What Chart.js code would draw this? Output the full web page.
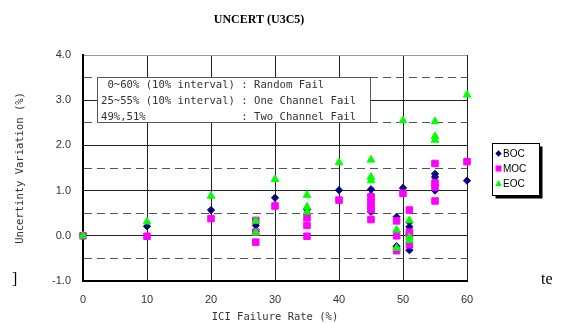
<!DOCTYPE html>
<html>
<head>
<meta charset="utf-8">
<script src="https://cdn.jsdelivr.net/npm/chart.js@4.4.1/dist/chart.umd.min.js"></script>
<style>
  html, body { margin: 0; padding: 0; background: #fff; }
  #wrap { position: relative; width: 563px; height: 323px; overflow: hidden; }
</style>
</head>
<body>
<div id="wrap"><canvas id="chart" width="563" height="323"></canvas></div>
<script>
// ICI failure rate (%) and uncertainty variation (%) per core state
const bocRate = [0, 10, 20, 27, 27, 30, 35, 35, 40, 45, 45, 45, 49, 49, 50, 51, 51, 51, 55, 55, 55, 60];
const bocVar  = [0, 0.21, 0.57, 0.23, 0.10, 0.84, 0.58, 0.48, 1.01, 1.03, 0.90, 0.53, 0.42, -0.23, 1.06, 0.30, 0.20, -0.32, 1.37, 1.30, 1.00, 1.22];

const mocRate = [0, 10, 20, 27, 27, 27, 30, 35, 35, 35, 40, 45, 45, 45, 45, 45, 49, 49, 49, 50, 51, 51, 51, 51, 55, 55, 55, 55, 60];
const mocVar  = [0, -0.01, 0.38, 0.34, 0.08, -0.14, 0.66, 0.40, 0.23, -0.01, 0.79, 0.86, 0.76, 0.66, 0.58, 0.36, 0.33, 0.00, -0.33, 0.94, 0.57, 0.08, 0.02, -0.20, 1.60, 1.17, 1.08, 0.77, 1.64];

const eocRate = [0, 10, 20, 27, 27, 30, 35, 35, 35, 40, 45, 45, 45, 49, 49, 50, 51, 51, 51, 55, 55, 55, 60];
const eocVar  = [0, 0.31, 0.88, 0.33, 0.07, 1.25, 0.90, 0.64, 0.53, 1.62, 1.68, 1.30, 1.22, 0.13, -0.27, 2.55, 0.34, -0.03, -0.10, 2.53, 2.20, 2.12, 3.12];

const seriesNames = ['BOC', 'MOC', 'EOC'];
const seriesColors = ['#000080', '#ff00ff', '#00ff00'];
const chartTitle = 'UNCERT (U3C5)';
const xTitle = 'ICI Failure Rate (%)';
const yTitle = 'Uncertinty Variation (%)';
const noteLines = [
  ' 0~60% (10% interval) : Random Fail',
  '25~55% (10% interval) : One Channel Fail',
  '49%,51%               : Two Channel Fail'
];

const toPoints = (xs, ys) => xs.map((x, i) => ({ x, y: ys[i] }));

// title, note box, series legend and the clipped page text around the figure
const decor = {
  id: 'decor',
  afterDraw(chart) {
    const c = chart.ctx;
    c.save();

    c.fillStyle = '#000';
    c.font = 'bold 12px "Liberation Serif"';
    c.textAlign = 'center';
    c.textBaseline = 'middle';
    c.fillText(chartTitle, 259, 20);

    // note box
    c.fillStyle = '#fff';
    c.fillRect(97.5, 77.5, 273, 45);
    c.strokeStyle = '#555';
    c.lineWidth = 1;
    c.strokeRect(97.5, 77.5, 273, 45);
    c.fillStyle = '#333';
    c.font = '10.6px "DejaVu Sans Mono"';
    c.textAlign = 'left';
    noteLines.forEach((t, i) => c.fillText(t, 101, 85.5 + i * 15.7));

    // series legend
    c.fillStyle = '#000';
    c.fillRect(495.5, 146.5, 47, 52);
    c.fillStyle = '#fff';
    c.fillRect(492.5, 143.5, 47, 52);
    c.strokeStyle = '#000';
    c.strokeRect(492.5, 143.5, 47, 52);
    c.font = '10px "Liberation Sans"';
    seriesNames.forEach((name, i) => {
      const y = 153.5 + i * 15;
      const x = 498.5;
      c.fillStyle = seriesColors[i];
      c.beginPath();
      if (i === 0) {
        c.moveTo(x - 3.2, y); c.lineTo(x, y - 3.2); c.lineTo(x + 3.2, y); c.lineTo(x, y + 3.2);
      } else if (i === 1) {
        c.rect(x - 3, y - 3, 6, 6);
      } else {
        c.moveTo(x, y - 3.6); c.lineTo(x + 3.4, y + 2.6); c.lineTo(x - 3.4, y + 2.6);
      }
      c.closePath();
      c.fill();
      c.fillStyle = '#000';
      c.fillText(name, 503, y + 0.5);
    });

    c.font = '16px "Liberation Serif"';
    c.fillStyle = '#000';
    c.textBaseline = 'alphabetic';
    c.fillText(']', 12, 284);
    c.fillText('te', 541, 284);
    c.restore();
  }
};

const gridColor = ctx => {
  const v = ctx.tick ? ctx.tick.value : 0;
  if (v === 4) return '#999';
  return v % 1 !== 0 ? '#555' : '#222';
};

new Chart(document.getElementById('chart'), {
  type: 'scatter',
  data: {
    datasets: [
      { label: seriesNames[0], data: toPoints(bocRate, bocVar), pointStyle: 'rectRot', pointRadius: 3.6,
        backgroundColor: seriesColors[0], borderColor: seriesColors[0], borderWidth: 1, order: 2, clip: false },
      { label: seriesNames[1], data: toPoints(mocRate, mocVar), pointStyle: 'rect', pointRadius: 4.6,
        backgroundColor: seriesColors[1], borderColor: seriesColors[1], borderWidth: 1, order: 1, clip: false },
      { label: seriesNames[2], data: toPoints(eocRate, eocVar), pointStyle: 'triangle', pointRadius: 4.4,
        backgroundColor: seriesColors[2], borderColor: seriesColors[2], borderWidth: 1, order: 0, clip: false }
    ]
  },
  options: {
    responsive: false,
    animation: false,
    events: [],
    layout: { padding: { left: 0, top: 55, right: 96, bottom: 0 } },
    plugins: { legend: { display: false }, tooltip: { enabled: false } },
    scales: {
      x: {
        type: 'linear', min: 0, max: 60,
        ticks: { stepSize: 10, padding: 12, color: '#333', font: { family: 'Liberation Sans', size: 11 } },
        grid: { color: '#222', drawTicks: false },
        border: { color: '#000', width: 2 },
        title: { display: true, text: xTitle, color: '#333', padding: { top: 0, bottom: 0 },
          font: { family: 'DejaVu Sans Mono', size: 10.5, lineHeight: 1 } },
        afterFit: s => { s.height = 42; s.paddingLeft = 0; s.paddingRight = 0; }
      },
      y: {
        min: -1, max: 4,
        ticks: { stepSize: 0.5, padding: 12, color: '#333', font: { family: 'Liberation Sans', size: 11 },
          callback: v => (v % 1 === 0 ? v.toFixed(1) : '') },
        grid: { color: gridColor, drawTicks: false },
        border: { color: '#000', width: 2, dash: ctx => (ctx.tick && ctx.tick.value % 1 !== 0 ? [8, 5] : []) },
        title: { display: true, text: yTitle, color: '#333', padding: { top: 15, bottom: 0 },
          font: { family: 'DejaVu Sans Mono', size: 10.5, lineHeight: 1 } },
        afterFit: s => { s.width = 83; s.paddingTop = 0; s.paddingBottom = 0; }
      }
    }
  },
  plugins: [decor]
});
</script>
</body>
</html>
